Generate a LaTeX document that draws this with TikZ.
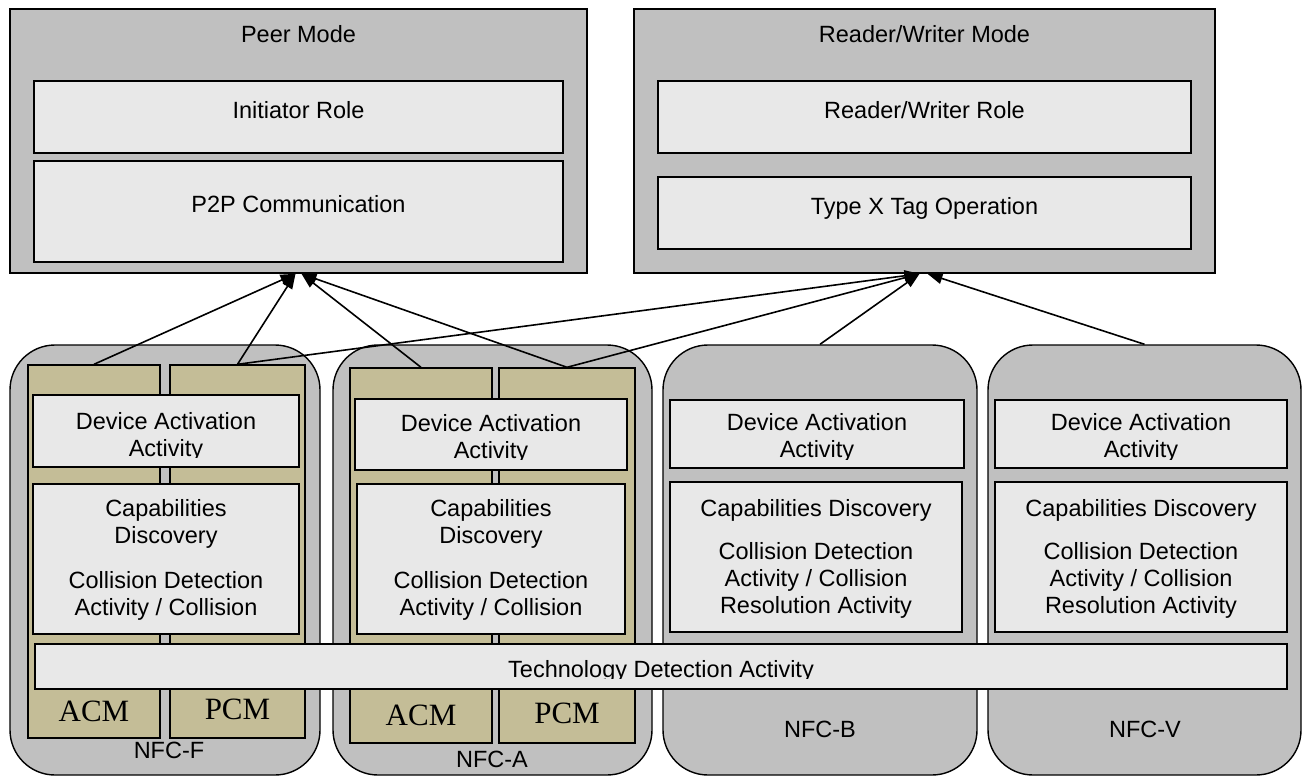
\documentclass[tikz,border=0pt]{standalone}
\usepackage{fontspec}
\setmainfont{Liberation Sans}
\newfontfamily\tmsfont{Liberation Serif}
\usetikzlibrary{positioning,arrows.meta,calc}

\definecolor{outerGray}{RGB}{192,192,192}
\definecolor{innerGray}{RGB}{232,232,232}
\definecolor{cmTan}{RGB}{196,189,151}

\begin{document}
\begin{tikzpicture}[
  x=1pt, y=-1pt,
  >={Triangle[length=15pt,width=11pt]},
  mode/.style={draw, line width=1.6pt, fill=outerGray, inner sep=0pt},
  role/.style={draw, line width=1.6pt, fill=innerGray, inner sep=0pt},
  tech/.style={draw, line width=1.4pt, fill=outerGray, rounded corners=45pt, inner sep=0pt, minimum height=430pt},
  cmcol/.style={draw, line width=1.4pt, fill=cmTan, inner sep=0pt},
  act/.style={draw, line width=1.4pt, fill=innerGray, inner sep=0pt},
  txt/.style={font=\fontsize{23.5}{27}\selectfont, align=center, inner sep=0pt, anchor=base},
  cmtxt/.style={font=\tmsfont\fontsize{31}{36}\selectfont, inner sep=0pt, anchor=base},
  link/.style={->, line width=1.6pt}
]
\useasboundingbox (0,0) rectangle (1308,776);

% --- Modes ---
\node[mode, minimum width=577pt, minimum height=264pt] (peer) at (298.5,141) {};
\node[role, minimum width=529pt, minimum height=72pt] (init) at (298.5,117) {};
\node[role, minimum width=529pt, minimum height=101pt] (p2p) at (298.5,211.5) {};
\node[txt] (peerT) at (298.5,42) {Peer Mode};
\node[txt] (initT) at (298.5,118) {Initiator Role};
\node[txt] (p2pT) at (298.5,212) {P2P Communication};

\node[mode, minimum width=581pt, minimum height=264pt] (rw) at (924.5,141) {};
\node[role, minimum width=533pt, minimum height=72pt] (rwRole) at (924.5,117) {};
\node[role, minimum width=533pt, minimum height=72pt] (typeX) at (924.5,213) {};
\node[txt] (rwT) at (924.5,42) {Reader/Writer Mode};
\node[txt] (rwRoleT) at (924.5,118) {Reader/Writer Role};
\node[txt] (typeXT) at (924.5,214) {Type X Tag Operation};

% --- Technologies ---
\node[tech, minimum width=310pt] (nfcF) at (165,560) {};
\node[tech, minimum width=319pt] (nfcA) at (492.5,560) {};
\node[tech, minimum width=314pt] (nfcB) at (820,560) {};
\node[tech, minimum width=313pt] (nfcV) at (1144.5,560) {};

% --- ACM / PCM columns ---
\node[cmcol, minimum width=132pt, minimum height=373pt] (fAcm) at (94,551.5) {};
\node[cmcol, minimum width=135pt, minimum height=373pt] (fPcm) at (237.5,551.5) {};
\node[cmcol, minimum width=142pt, minimum height=375pt] (aAcm) at (421,555.5) {};
\node[cmcol, minimum width=136pt, minimum height=375pt] (aPcm) at (567,555.5) {};

% --- Device Activation Activity ---
\node[act, minimum width=266pt, minimum height=72pt] (fDev) at (166,431) {};
\node[act, minimum width=272pt, minimum height=71pt] (aDev) at (491,434.5) {};
\node[act, minimum width=294pt, minimum height=68pt] (bDev) at (817,434) {};
\node[act, minimum width=292pt, minimum height=68pt] (vDev) at (1141,434) {};

\begin{scope}
  \clip (fDev.north west) rectangle ([yshift=10pt]fDev.south east);
  \node[txt] (fDevT) at (166,456) {Device Activation\\Activity};
\end{scope}
\begin{scope}
  \clip (aDev.north west) rectangle ([yshift=11pt]aDev.south east);
  \node[txt] (aDevT) at (491,458) {Device Activation\\Activity};
\end{scope}
\begin{scope}
  \clip (bDev.north west) rectangle ([yshift=9pt]bDev.south east);
  \node[txt] (bDevT) at (817,457) {Device Activation\\Activity};
\end{scope}
\begin{scope}
  \clip (vDev.north west) rectangle ([yshift=9pt]vDev.south east);
  \node[txt] (vDevT) at (1141,457) {Device Activation\\Activity};
\end{scope}

% --- Capabilities Discovery / Collision ---
\node[act, minimum width=266pt, minimum height=150pt] (fCap) at (166,559) {};
\node[act, minimum width=268pt, minimum height=150pt] (aCap) at (491,559) {};
\node[act, minimum width=292pt, minimum height=150pt] (bCap) at (816,557) {};
\node[act, minimum width=292pt, minimum height=150pt] (vCap) at (1141,557) {};

\node[txt] (fCapT) at (166,615) {Capabilities\\Discovery\\[18pt]Collision Detection\\Activity / Collision};
\node[txt] (aCapT) at (491,615) {Capabilities\\Discovery\\[18pt]Collision Detection\\Activity / Collision};
\node[txt] (bCapT) at (816,613) {Capabilities Discovery\\[16pt]Collision Detection\\Activity / Collision\\Resolution Activity};
\node[txt] (vCapT) at (1141,613) {Capabilities Discovery\\[16pt]Collision Detection\\Activity / Collision\\Resolution Activity};

% --- Technology Detection Activity ---
\node[act, minimum width=1252pt, minimum height=45pt] (techDet) at (661,666.5) {};
\begin{scope}
  \clip (techDet.north west) rectangle ([yshift=11pt]techDet.south east);
  \node[txt] (techDetT) at (661,677) {Technology Detection Activity};
\end{scope}

% --- Labels ---
\node[cmtxt] (fAcmT) at (94,721) {ACM};
\node[cmtxt] (fPcmT) at (237.5,719) {PCM};
\node[cmtxt] (aAcmT) at (421,725) {ACM};
\node[cmtxt] (aPcmT) at (567,723) {PCM};

\node[txt] (nfcFT) at (169,758) {NFC-F};
\node[txt] (nfcAT) at (492,767) {NFC-A};
\node[txt] (nfcBT) at (820,737) {NFC-B};
\node[txt] (nfcVT) at (1145,737) {NFC-V};

% --- Links ---
\coordinate (peerL) at ($(peer.south)+(-3,0)$);
\coordinate (peerR) at ($(peer.south)+(3,0)$);
\coordinate (rwL) at ($(rw.south)+(-5,0)$);
\coordinate (rwR) at ($(rw.south)+(3,0)$);

\draw[link] (fAcm.north) -- (peerL);
\draw[link] (fPcm.north) -- (peerL);
\draw[link] (aAcm.north) -- (peerR);
\draw[link] (aPcm.north) -- (peerR);

\draw[link] (fPcm.north) -- (rwL);
\draw[link] (aPcm.north) -- (rwL);
\draw[link] (nfcB.north) -- (rwL);
\draw[link] (nfcV.north) -- (rwR);

\end{tikzpicture}
\end{document}
